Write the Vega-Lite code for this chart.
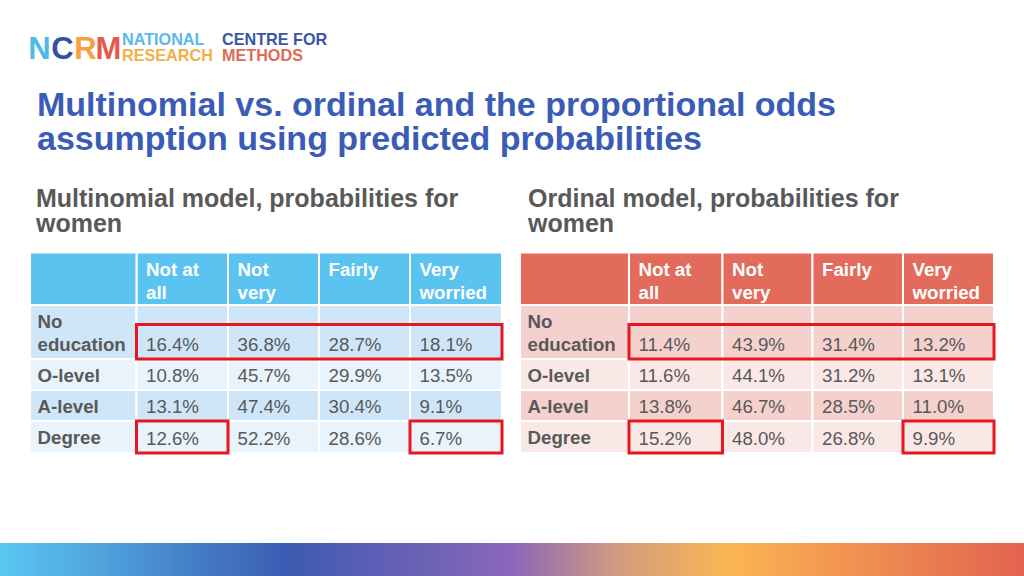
{
  "$schema": "https://vega.github.io/schema/vega-lite/v6.json",
  "width": 1024,
  "height": 576,
  "autosize": {"type": "fit", "contains": "padding"},
  "padding": 0,
  "background": "#ffffff",
  "config": {"view": {"stroke": null}, "font": "Liberation Sans"},
  "datasets": {
    "cells": [
      {"model": "Multinomial", "edu": "No education", "cat": "Not at all", "p": 0.164},
      {"model": "Multinomial", "edu": "No education", "cat": "Not very", "p": 0.368},
      {"model": "Multinomial", "edu": "No education", "cat": "Fairly", "p": 0.287},
      {"model": "Multinomial", "edu": "No education", "cat": "Very worried", "p": 0.181},
      {"model": "Multinomial", "edu": "O-level", "cat": "Not at all", "p": 0.108},
      {"model": "Multinomial", "edu": "O-level", "cat": "Not very", "p": 0.457},
      {"model": "Multinomial", "edu": "O-level", "cat": "Fairly", "p": 0.299},
      {"model": "Multinomial", "edu": "O-level", "cat": "Very worried", "p": 0.135},
      {"model": "Multinomial", "edu": "A-level", "cat": "Not at all", "p": 0.131},
      {"model": "Multinomial", "edu": "A-level", "cat": "Not very", "p": 0.474},
      {"model": "Multinomial", "edu": "A-level", "cat": "Fairly", "p": 0.304},
      {"model": "Multinomial", "edu": "A-level", "cat": "Very worried", "p": 0.091},
      {"model": "Multinomial", "edu": "Degree", "cat": "Not at all", "p": 0.126},
      {"model": "Multinomial", "edu": "Degree", "cat": "Not very", "p": 0.522},
      {"model": "Multinomial", "edu": "Degree", "cat": "Fairly", "p": 0.286},
      {"model": "Multinomial", "edu": "Degree", "cat": "Very worried", "p": 0.067},
      {"model": "Ordinal", "edu": "No education", "cat": "Not at all", "p": 0.114},
      {"model": "Ordinal", "edu": "No education", "cat": "Not very", "p": 0.439},
      {"model": "Ordinal", "edu": "No education", "cat": "Fairly", "p": 0.314},
      {"model": "Ordinal", "edu": "No education", "cat": "Very worried", "p": 0.132},
      {"model": "Ordinal", "edu": "O-level", "cat": "Not at all", "p": 0.116},
      {"model": "Ordinal", "edu": "O-level", "cat": "Not very", "p": 0.441},
      {"model": "Ordinal", "edu": "O-level", "cat": "Fairly", "p": 0.312},
      {"model": "Ordinal", "edu": "O-level", "cat": "Very worried", "p": 0.131},
      {"model": "Ordinal", "edu": "A-level", "cat": "Not at all", "p": 0.138},
      {"model": "Ordinal", "edu": "A-level", "cat": "Not very", "p": 0.467},
      {"model": "Ordinal", "edu": "A-level", "cat": "Fairly", "p": 0.285},
      {"model": "Ordinal", "edu": "A-level", "cat": "Very worried", "p": 0.110},
      {"model": "Ordinal", "edu": "Degree", "cat": "Not at all", "p": 0.152},
      {"model": "Ordinal", "edu": "Degree", "cat": "Not very", "p": 0.480},
      {"model": "Ordinal", "edu": "Degree", "cat": "Fairly", "p": 0.268},
      {"model": "Ordinal", "edu": "Degree", "cat": "Very worried", "p": 0.099}
    ],
    "columns": [
      {"cat": "Not at all", "label": "Not at\nall"},
      {"cat": "Not very", "label": "Not\nvery"},
      {"cat": "Fairly", "label": "Fairly"},
      {"cat": "Very worried", "label": "Very\nworried"}
    ],
    "highlights": [
      {"model": "Multinomial", "edu": "No education", "first": "Not at all", "last": "Very worried"},
      {"model": "Multinomial", "edu": "Degree", "first": "Not at all", "last": "Not at all"},
      {"model": "Multinomial", "edu": "Degree", "first": "Very worried", "last": "Very worried"},
      {"model": "Ordinal", "edu": "No education", "first": "Not at all", "last": "Very worried"},
      {"model": "Ordinal", "edu": "Degree", "first": "Not at all", "last": "Not at all"},
      {"model": "Ordinal", "edu": "Degree", "first": "Very worried", "last": "Very worried"}
    ],
    "logo": [
      {"part": "N", "kind": "letter"},
      {"part": "C", "kind": "letter"},
      {"part": "R", "kind": "letter"},
      {"part": "M", "kind": "letter"},
      {"part": "NATIONAL", "kind": "word", "line": "NATIONAL CENTRE FOR", "slot": 1},
      {"part": "CENTRE FOR", "kind": "word", "line": "NATIONAL CENTRE FOR", "slot": 2},
      {"part": "RESEARCH", "kind": "word", "line": "RESEARCH METHODS", "slot": 1},
      {"part": "METHODS", "kind": "word", "line": "RESEARCH METHODS", "slot": 2}
    ],
    "titles": [
      {"role": "title", "line": 1, "text": "Multinomial vs. ordinal and the proportional odds"},
      {"role": "title", "line": 2, "text": "assumption using predicted probabilities"}
    ],
    "subtitles": [
      {"role": "subtitle", "model": "Multinomial", "text": "Multinomial model, probabilities for\nwomen"},
      {"role": "subtitle", "model": "Ordinal", "text": "Ordinal model, probabilities for\nwomen"}
    ],
    "footer": [{"role": "footer"}]
  },
  "resolve": {"scale": {"x": "independent", "y": "independent"}},
  "layer": [
    {
      "data": {"name": "logo"},
      "transform": [{"filter": "datum.kind == 'letter'"}],
      "mark": {"type": "text", "fontSize": 31, "fontWeight": "bold", "align": "center", "baseline": "middle", "font": "Liberation Sans"},
      "encoding": {
        "x": {"field": "part", "type": "nominal", "scale": {"type": "band", "domain": ["N", "C", "R", "M"], "range": [28, 120], "paddingInner": 0, "paddingOuter": 0}, "axis": null},
        "y": {"field": "kind", "type": "nominal", "scale": {"type": "band", "domain": ["letter"], "range": [33, 67], "paddingInner": 0, "paddingOuter": 0}, "axis": null},
        "text": {"field": "part"},
        "color": {"condition": [
          {"test": "datum.part == 'N'", "value": "#4fb9ea"},
          {"test": "datum.part == 'C'", "value": "#34509f"},
          {"test": "datum.part == 'R'", "value": "#f3a33f"}
        ], "value": "#e35a4d"}
      }
    },
    {
      "data": {"name": "logo"},
      "transform": [{"filter": "datum.kind == 'word'"}],
      "mark": {"type": "text", "fontSize": 16.2, "fontWeight": "bold", "align": "left", "baseline": "middle", "font": "Liberation Sans"},
      "encoding": {
        "x": {"field": "slot", "type": "ordinal", "bandPosition": 0, "scale": {"type": "band", "domain": [1, 2], "range": [122, 322], "paddingInner": 0, "paddingOuter": 0}, "axis": null},
        "y": {"field": "line", "type": "nominal", "scale": {"type": "band", "domain": ["NATIONAL CENTRE FOR", "RESEARCH METHODS"], "range": [31.5, 63.5], "paddingInner": 0, "paddingOuter": 0}, "axis": null},
        "text": {"field": "part"},
        "color": {"condition": [
          {"test": "datum.part == 'NATIONAL'", "value": "#5bb8e8"},
          {"test": "datum.part == 'CENTRE FOR'", "value": "#3d56a6"},
          {"test": "datum.part == 'RESEARCH'", "value": "#f4b048"}
        ], "value": "#e06a55"}
      }
    },
    {
      "data": {"name": "titles"},
      "mark": {"type": "text", "fontSize": 34, "fontWeight": "bold", "align": "left", "baseline": "middle", "color": "#3a5cb7", "font": "Liberation Sans"},
      "encoding": {
        "x": {"field": "role", "type": "nominal", "bandPosition": 0, "scale": {"type": "band", "domain": ["title"], "range": [37, 1000], "paddingInner": 0, "paddingOuter": 0}, "axis": null},
        "y": {"field": "line", "type": "ordinal", "scale": {"type": "band", "domain": [1, 2], "range": [88.5, 156.5], "paddingInner": 0, "paddingOuter": 0}, "axis": null},
        "text": {"field": "text"}
      }
    },
    {
      "data": {"name": "subtitles"},
      "mark": {"type": "text", "fontSize": 25, "fontWeight": "bold", "align": "left", "baseline": "top", "color": "#595959", "lineBreak": "\n", "lineHeight": 25, "font": "Liberation Sans"},
      "encoding": {
        "x": {"field": "model", "type": "nominal", "bandPosition": 0, "scale": {"type": "band", "domain": ["Multinomial", "Ordinal"], "range": [36, 1020], "paddingInner": 0, "paddingOuter": 0}, "axis": null},
        "y": {"field": "role", "type": "nominal", "bandPosition": 0, "scale": {"type": "band", "domain": ["subtitle"], "range": [187, 240], "paddingInner": 0, "paddingOuter": 0}, "axis": null},
        "text": {"field": "text"}
      }
    },
    {
      "layer": [
        {
          "data": {"name": "cells"},
          "transform": [
            {"calculate": "datum.model == 'Ordinal' ? 6 : 0", "as": "off"},
            {"calculate": "datum.off + indexof(['Not at all','Not very','Fairly','Very worried'], datum.cat) + 1", "as": "gx"},
            {"calculate": "datum.gx + 1", "as": "gx2"},
            {"calculate": "datum.off + 1", "as": "lx2"},
            {"calculate": "indexof(['No education','O-level','A-level','Degree'], datum.edu)", "as": "ri"},
            {"calculate": "datum.ri + 1", "as": "ri2"},
            {"calculate": "-1", "as": "hy"},
            {"calculate": "0", "as": "hy2"}
          ],
          "layer": [
            {
              "transform": [{"filter": "datum.edu == 'No education'"}],
              "mark": {"type": "rect", "stroke": "#ffffff", "strokeWidth": 2},
              "encoding": {
                "x": {"field": "gx", "type": "quantitative", "scale": {"type": "linear", "domain": [0,1,2,3,4,5,6,7,8,9,10,11], "range": [30,136.5,228,319,410,502,520,629,722.5,812.5,903,994], "zero": false, "nice": false}, "axis": null},
                "x2": {"field": "gx2"},
                "y": {"field": "hy", "type": "quantitative", "scale": {"type": "linear", "domain": [-1,0,1,2,3,4], "range": [252.5,305,359,390,421,453], "zero": false, "nice": false}, "axis": null},
                "y2": {"field": "hy2"},
                "fill": {"condition": {"test": "datum.model == 'Ordinal'", "value": "#e36b5c"}, "value": "#5bc3f0"}
              }
            },
            {
              "transform": [{"filter": "datum.edu == 'No education' && datum.cat == 'Not at all'"}],
              "mark": {"type": "rect", "stroke": "#ffffff", "strokeWidth": 2},
              "encoding": {
                "x": {"field": "off", "type": "quantitative", "scale": {"type": "linear", "domain": [0,1,2,3,4,5,6,7,8,9,10,11], "range": [30,136.5,228,319,410,502,520,629,722.5,812.5,903,994], "zero": false, "nice": false}, "axis": null},
                "x2": {"field": "lx2"},
                "y": {"field": "hy", "type": "quantitative", "scale": {"type": "linear", "domain": [-1,0,1,2,3,4], "range": [252.5,305,359,390,421,453], "zero": false, "nice": false}, "axis": null},
                "y2": {"field": "hy2"},
                "fill": {"condition": {"test": "datum.model == 'Ordinal'", "value": "#e36b5c"}, "value": "#5bc3f0"}
              }
            },
            {
              "transform": [{"filter": "datum.cat == 'Not at all'"}],
              "mark": {"type": "rect", "stroke": "#ffffff", "strokeWidth": 2},
              "encoding": {
                "x": {"field": "off", "type": "quantitative", "scale": {"type": "linear", "domain": [0,1,2,3,4,5,6,7,8,9,10,11], "range": [30,136.5,228,319,410,502,520,629,722.5,812.5,903,994], "zero": false, "nice": false}, "axis": null},
                "x2": {"field": "lx2"},
                "y": {"field": "ri", "type": "quantitative", "scale": {"type": "linear", "domain": [-1,0,1,2,3,4], "range": [252.5,305,359,390,421,453], "zero": false, "nice": false}, "axis": null},
                "y2": {"field": "ri2"},
                "fill": {"condition": [
                  {"test": "datum.model == 'Multinomial' && datum.ri % 2 == 0", "value": "#cfe6f8"},
                  {"test": "datum.model == 'Multinomial'", "value": "#e8f3fc"},
                  {"test": "datum.ri % 2 == 0", "value": "#f4d1cd"}
                ], "value": "#f9e8e6"}
              }
            },
            {
              "mark": {"type": "rect", "stroke": "#ffffff", "strokeWidth": 2},
              "encoding": {
                "x": {"field": "gx", "type": "quantitative", "scale": {"type": "linear", "domain": [0,1,2,3,4,5,6,7,8,9,10,11], "range": [30,136.5,228,319,410,502,520,629,722.5,812.5,903,994], "zero": false, "nice": false}, "axis": null},
                "x2": {"field": "gx2"},
                "y": {"field": "ri", "type": "quantitative", "scale": {"type": "linear", "domain": [-1,0,1,2,3,4], "range": [252.5,305,359,390,421,453], "zero": false, "nice": false}, "axis": null},
                "y2": {"field": "ri2"},
                "fill": {"condition": [
                  {"test": "datum.model == 'Multinomial' && datum.ri % 2 == 0", "value": "#cfe6f8"},
                  {"test": "datum.model == 'Multinomial'", "value": "#e8f3fc"},
                  {"test": "datum.ri % 2 == 0", "value": "#f4d1cd"}
                ], "value": "#f9e8e6"}
              }
            },
            {
              "transform": [
                {"filter": "datum.edu == 'No education'"},
                {"lookup": "cat", "from": {"data": {"name": "columns"}, "key": "cat", "fields": ["label"]}}
              ],
              "mark": {"type": "text", "align": "left", "baseline": "top", "dx": 9.5, "dy": 8, "fontSize": 18.7, "fontWeight": "bold", "color": "#ffffff", "lineBreak": "\n", "lineHeight": 23, "font": "Liberation Sans"},
              "encoding": {
                "x": {"field": "gx", "type": "quantitative", "scale": {"type": "linear", "domain": [0,1,2,3,4,5,6,7,8,9,10,11], "range": [30,136.5,228,319,410,502,520,629,722.5,812.5,903,994], "zero": false, "nice": false}, "axis": null},
                "y": {"field": "hy", "type": "quantitative", "scale": {"type": "linear", "domain": [-1,0,1,2,3,4], "range": [252.5,305,359,390,421,453], "zero": false, "nice": false}, "axis": null},
                "text": {"field": "label"}
              }
            },
            {
              "transform": [{"filter": "datum.cat == 'Not at all'"}],
              "mark": {"type": "text", "align": "left", "baseline": "top", "dx": 7.5, "dy": 8, "fontSize": 18.7, "fontWeight": "bold", "color": "#595959", "lineBreak": " ", "lineHeight": 23, "font": "Liberation Sans"},
              "encoding": {
                "x": {"field": "off", "type": "quantitative", "scale": {"type": "linear", "domain": [0,1,2,3,4,5,6,7,8,9,10,11], "range": [30,136.5,228,319,410,502,520,629,722.5,812.5,903,994], "zero": false, "nice": false}, "axis": null},
                "y": {"field": "ri", "type": "quantitative", "scale": {"type": "linear", "domain": [-1,0,1,2,3,4], "range": [252.5,305,359,390,421,453], "zero": false, "nice": false}, "axis": null},
                "text": {"field": "edu"}
              }
            },
            {
              "mark": {"type": "text", "align": "left", "baseline": "bottom", "dx": 9.5, "dy": -4, "fontSize": 18.7, "color": "#595959", "font": "Liberation Sans"},
              "encoding": {
                "x": {"field": "gx", "type": "quantitative", "scale": {"type": "linear", "domain": [0,1,2,3,4,5,6,7,8,9,10,11], "range": [30,136.5,228,319,410,502,520,629,722.5,812.5,903,994], "zero": false, "nice": false}, "axis": null},
                "y": {"field": "ri2", "type": "quantitative", "scale": {"type": "linear", "domain": [-1,0,1,2,3,4], "range": [252.5,305,359,390,421,453], "zero": false, "nice": false}, "axis": null},
                "text": {"field": "p", "type": "quantitative", "format": ".1%"}
              }
            }
          ]
        },
        {
          "data": {"name": "highlights"},
          "transform": [
            {"calculate": "datum.model == 'Ordinal' ? 6 : 0", "as": "off"},
            {"calculate": "datum.off + indexof(['Not at all','Not very','Fairly','Very worried'], datum.first) + 1", "as": "hx"},
            {"calculate": "datum.off + indexof(['Not at all','Not very','Fairly','Very worried'], datum.last) + 2", "as": "hx2"},
            {"calculate": "indexof(['No education','O-level','A-level','Degree'], datum.edu)", "as": "ri"},
            {"calculate": "datum.ri + (datum.ri == 0 ? 0.36 : 0)", "as": "hy"},
            {"calculate": "datum.ri + 1", "as": "hy2"}
          ],
          "mark": {"type": "rect", "filled": false, "stroke": "#e8161e", "strokeWidth": 3},
          "encoding": {
            "x": {"field": "hx", "type": "quantitative", "scale": {"type": "linear", "domain": [0,1,2,3,4,5,6,7,8,9,10,11], "range": [30,136.5,228,319,410,502,520,629,722.5,812.5,903,994], "zero": false, "nice": false}, "axis": null},
            "x2": {"field": "hx2"},
            "y": {"field": "hy", "type": "quantitative", "scale": {"type": "linear", "domain": [-1,0,1,2,3,4], "range": [252.5,305,359,390,421,453], "zero": false, "nice": false}, "axis": null},
            "y2": {"field": "hy2"}
          }
        }
      ]
    },
    {
      "data": {"name": "footer"},
      "mark": {"type": "rect", "fill": {"gradient": "linear", "x1": 0, "y1": 0, "x2": 1, "y2": 0, "stops": [
        {"offset": 0, "color": "#5bc8f3"},
        {"offset": 0.28, "color": "#3b5bb2"},
        {"offset": 0.5, "color": "#8c66b9"},
        {"offset": 0.6, "color": "#cf9b82"},
        {"offset": 0.71, "color": "#fbb653"},
        {"offset": 1, "color": "#e2624f"}
      ]}},
      "encoding": {
        "x": {"field": "role", "type": "nominal", "scale": {"type": "band", "domain": ["footer"], "range": [0, 1024], "paddingInner": 0, "paddingOuter": 0}, "axis": null},
        "y": {"field": "role", "type": "nominal", "scale": {"type": "band", "domain": ["footer"], "range": [543, 576], "paddingInner": 0, "paddingOuter": 0}, "axis": null}
      }
    }
  ]
}
